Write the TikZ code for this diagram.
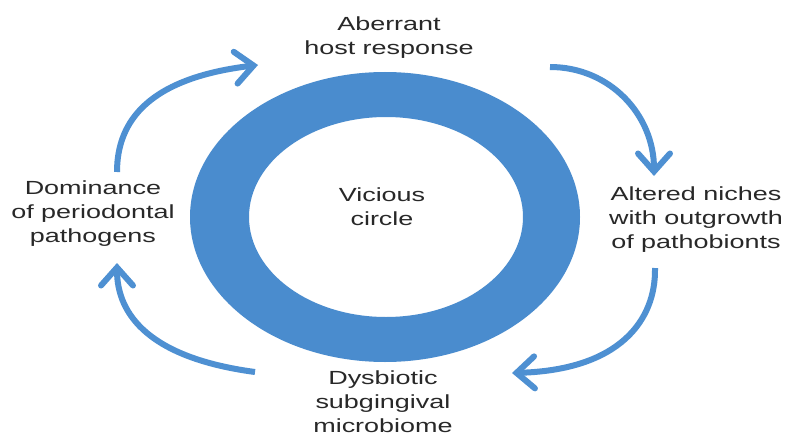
\documentclass[tikz,border=0pt]{standalone}
\usepackage{fontspec}
\setmainfont[FakeStretch=1.42]{Liberation Sans}
\usetikzlibrary{arrows.meta}
\definecolor{ringblue}{RGB}{74,140,206}
\definecolor{arrowblue}{RGB}{78,144,210}
\definecolor{txt}{RGB}{40,40,40}
\tikzset{
  label/.style={align=center, text=txt, font=\fontsize{19pt}{24pt}\selectfont, inner sep=0pt},
  cyc/.style={draw=arrowblue, line width=6pt, -{Straight Barb[length=18pt,width=32pt,line cap=round]}}
}
\begin{document}
\begin{tikzpicture}[x=1pt,y=-1pt]
\useasboundingbox (0,0) rectangle (787,436);
\fill[white] (0,0) rectangle (787,436);
% ring
\fill[ringblue, even odd rule] (385,217) ellipse [x radius=195pt, y radius=145pt]
  (386,217) ellipse [x radius=137pt, y radius=100pt];
% labels
\node[label] (top) at (389,38) {Aberrant\\host response};
\node[label] (left) at (93,214) {Dominance\\of periodontal\\pathogens};
\node[label] (right) at (696,220) {Altered niches\\with outgrowth\\of pathobionts};
\node[label] (bottom) at (383,402) {Dysbiotic\\subgingival\\microbiome};
\node[label] (center) at (382,207) {Vicious\\circle};
% arrow end points
\coordinate (a1s) at (117,172);
\coordinate (a1e) at (258,65);
\coordinate (a2s) at (255,372);
\coordinate (a2e) at (117,263);
\coordinate (a3s) at (550,67);
\coordinate (a3e) at (654,176);
\coordinate (a4s) at (655,268);
\coordinate (a4e) at (512,373);
% arrows
\draw[cyc] (a1s) .. controls (117,120) and (150,78) .. (a1e);
\draw[cyc] (a2s) .. controls (150,358) and (117,315) .. (a2e);
\draw[cyc] (a3s) .. controls (610,67) and (654,115) .. (a3e);
\draw[cyc] (a4s) .. controls (656,320) and (620,370) .. (a4e);
\end{tikzpicture}
\end{document}
